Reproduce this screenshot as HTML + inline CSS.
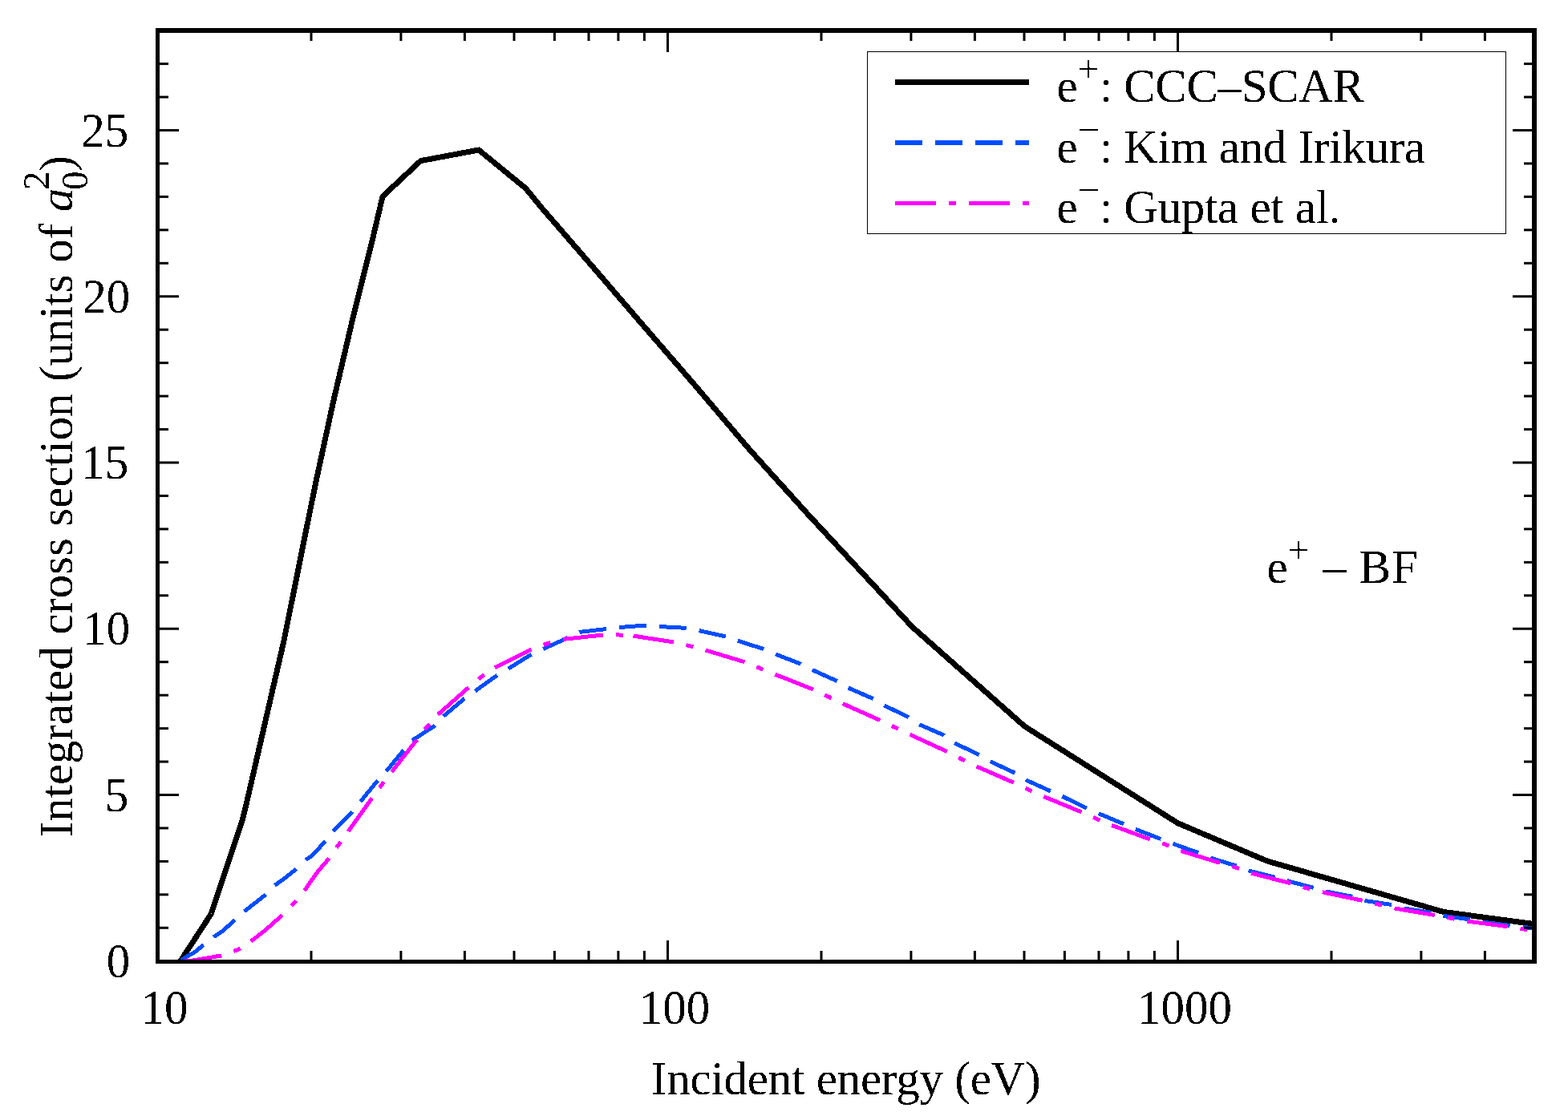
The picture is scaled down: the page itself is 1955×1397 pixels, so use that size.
<!DOCTYPE html><html><head><meta charset="utf-8"><style>html,body{margin:0;padding:0;background:#fff;overflow:hidden}svg{display:block}text{font-family:"Liberation Serif",serif;fill:#000}</style></head><body>
<svg width="1955" height="1397" viewBox="0 0 1955 1397">
<rect width="1955" height="1397" fill="#fff"/>
<defs><clipPath id="c"><rect x="199" y="41" width="1711" height="1156"/></clipPath><filter id="t" x="0" y="0" width="1955" height="1397" filterUnits="userSpaceOnUse"><feComponentTransfer><feFuncA type="discrete" tableValues="0 1"/></feComponentTransfer></filter></defs>
<g clip-path="url(#c)" fill="none" stroke-linejoin="miter" stroke-linecap="butt" shape-rendering="crispEdges">
<polyline points="225.0,1198.8 263.5,1139.5 276.5,1100.0 302.5,1022.0 307.8,1000.0 330.8,900.0 353.8,800.0 373.9,700.0 394.1,600.0 415.8,500.0 439.2,400.0 464.1,300.0 477.1,245.0 524.5,200.6 596.9,187.0 655.5,235.0 676.0,260.0 737.5,331.0 796.8,400.0 866.0,480.0 933.9,560.0 1006.0,640.0 1080.1,720.0 1137.5,782.0 1277.5,906.0 1468.6,1026.8 1580.0,1074.0 1800.0,1137.5 1913.0,1152.6" stroke="#000" stroke-width="7"/>
<polyline points="224.0,1199.0 234.8,1192.0 244.0,1186.9 252.2,1179.7 265.5,1169.5 278.8,1160.3 291.1,1149.0 303.3,1137.7 316.6,1127.5 330.0,1116.8 341.7,1105.0 354.5,1095.8 367.8,1085.1 380.6,1073.3 390.0,1066.3 403.7,1051.4 415.2,1037.1 438.1,1014.2 449.0,1000.4 469.6,975.2 481.1,962.6 502.3,936.9 513.7,923.6 541.1,905.9 553.3,893.1 577.6,872.5 592.2,862.1 618.3,843.3 632.9,834.7 660.9,817.1 676.1,809.9 705.3,796.8 722.9,788.4 755.2,784.6 771.3,782.6 805.0,780.0 821.1,781.5 854.9,783.3 871.0,786.4 904.0,793.8 919.4,799.1 951.6,809.4 967.5,816.2 997.0,827.6 1013.5,835.9 1042.1,848.8 1057.7,858.0 1087.2,870.9 1102.8,880.1 1131.4,893.9 1147.0,904.0 1176.5,916.9 1190.3,927.0 1219.7,940.9 1235.4,950.1 1264.9,963.9 1279.6,973.1 1310.0,986.9 1324.5,993.3 1354.8,1008.0 1369.6,1014.6 1400.7,1027.7 1415.4,1034.2 1447.3,1046.5 1462.0,1052.2 1494.0,1063.7 1509.5,1070.2 1541.4,1080.0 1556.0,1085.8 1588.9,1094.0 1605.1,1098.7 1637.8,1107.4 1653.0,1112.0 1687.0,1118.5 1701.8,1123.5 1735.9,1128.6 1751.8,1133.2 1784.9,1138.4 1800.5,1142.6 1834.0,1147.0 1848.0,1150.0 1882.8,1154.5 1913.0,1158.0" stroke="#004dff" stroke-width="5" stroke-dasharray="34 16" stroke-dashoffset="47.8"/>
<polyline points="226.0,1199.5 240.0,1198.0 250.0,1196.5 262.0,1194.3 275.7,1192.0 296.0,1184.8 313.6,1173.6 332.0,1159.2 351.4,1141.8 366.3,1127.0 380.1,1110.1 394.6,1089.2 410.0,1070.9 422.1,1053.7 434.1,1037.1 462.7,997.0 475.3,979.8 488.5,962.6 518.6,924.2 532.0,907.1 546.0,891.3 583.1,858.5 598.9,845.1 617.1,832.9 660.3,811.0 680.0,803.4 700.7,797.6 749.8,792.2 770.5,791.9 783.0,792.8" stroke="#ff00ff" stroke-width="5" stroke-dasharray="51 16 9 16" stroke-dashoffset="0.2"/>
<polyline points="783.0,792.8 792.0,793.5 841.1,801.1 861.0,806.0 881.0,811.4 929.3,826.0 948.5,834.0 968.4,842.0 1013.5,859.8 1032.9,869.0 1052.2,878.3 1097.3,898.5 1116.6,907.7 1136.0,916.9 1180.2,937.2 1198.6,946.8 1218.8,956.5 1263.0,975.8 1282.3,985.0 1300.8,993.3 1348.3,1012.9 1366.5,1021.0 1386.0,1029.3 1432.6,1046.5 1452.6,1053.0 1471.8,1061.2 1520.0,1076.0 1539.7,1081.7 1559.4,1089.0 1607.9,1101.4 1628.1,1107.4 1647.5,1112.5 1697.7,1123.1 1717.5,1127.7 1737.1,1132.7 1787.2,1141.2 1807.0,1145.0 1827.4,1148.8 1877.6,1155.4 1897.9,1158.7 1913.0,1160.5" stroke="#ff00ff" stroke-width="5" stroke-dasharray="51 16 9 16" stroke-dashoffset="85.5"/>
</g>
<g fill="#000">
<rect x="194" y="35" width="5" height="1167"/><rect x="1910" y="35" width="6" height="1167"/>
<rect x="194" y="35" width="1722" height="6"/><rect x="194" y="1197" width="1722" height="5"/>
<rect x="386.5" y="1186" width="3" height="11"/><rect x="386.5" y="41" width="3" height="10"/>
<rect x="498.4" y="1186" width="3" height="11"/><rect x="498.4" y="41" width="3" height="10"/>
<rect x="577.9" y="1186" width="3" height="11"/><rect x="577.9" y="41" width="3" height="10"/>
<rect x="639.5" y="1186" width="3" height="11"/><rect x="639.5" y="41" width="3" height="10"/>
<rect x="689.9" y="1186" width="3" height="11"/><rect x="689.9" y="41" width="3" height="10"/>
<rect x="732.5" y="1186" width="3" height="11"/><rect x="732.5" y="41" width="3" height="10"/>
<rect x="769.4" y="1186" width="3" height="11"/><rect x="769.4" y="41" width="3" height="10"/>
<rect x="801.9" y="1186" width="3" height="11"/><rect x="801.9" y="41" width="3" height="10"/>
<rect x="831.0" y="1173" width="3" height="24"/><rect x="831.0" y="41" width="3" height="24"/>
<rect x="1022.5" y="1186" width="3" height="11"/><rect x="1022.5" y="41" width="3" height="10"/>
<rect x="1134.4" y="1186" width="3" height="11"/><rect x="1134.4" y="41" width="3" height="10"/>
<rect x="1213.9" y="1186" width="3" height="11"/><rect x="1213.9" y="41" width="3" height="10"/>
<rect x="1275.5" y="1186" width="3" height="11"/><rect x="1275.5" y="41" width="3" height="10"/>
<rect x="1325.9" y="1186" width="3" height="11"/><rect x="1325.9" y="41" width="3" height="10"/>
<rect x="1368.5" y="1186" width="3" height="11"/><rect x="1368.5" y="41" width="3" height="10"/>
<rect x="1405.4" y="1186" width="3" height="11"/><rect x="1405.4" y="41" width="3" height="10"/>
<rect x="1437.9" y="1186" width="3" height="11"/><rect x="1437.9" y="41" width="3" height="10"/>
<rect x="1467.0" y="1173" width="3" height="24"/><rect x="1467.0" y="41" width="3" height="24"/>
<rect x="1658.5" y="1186" width="3" height="11"/><rect x="1658.5" y="41" width="3" height="10"/>
<rect x="1770.4" y="1186" width="3" height="11"/><rect x="1770.4" y="41" width="3" height="10"/>
<rect x="1849.9" y="1186" width="3" height="11"/><rect x="1849.9" y="41" width="3" height="10"/>
<rect x="199" y="1155.80" width="11" height="3"/><rect x="1900" y="1155.80" width="10" height="3"/>
<rect x="199" y="1114.35" width="11" height="3"/><rect x="1900" y="1114.35" width="10" height="3"/>
<rect x="199" y="1072.90" width="11" height="3"/><rect x="1900" y="1072.90" width="10" height="3"/>
<rect x="199" y="1031.45" width="11" height="3"/><rect x="1900" y="1031.45" width="10" height="3"/>
<rect x="199" y="990.00" width="24" height="3"/><rect x="1886" y="990.00" width="24" height="3"/>
<rect x="199" y="948.55" width="11" height="3"/><rect x="1900" y="948.55" width="10" height="3"/>
<rect x="199" y="907.10" width="11" height="3"/><rect x="1900" y="907.10" width="10" height="3"/>
<rect x="199" y="865.65" width="11" height="3"/><rect x="1900" y="865.65" width="10" height="3"/>
<rect x="199" y="824.20" width="11" height="3"/><rect x="1900" y="824.20" width="10" height="3"/>
<rect x="199" y="782.75" width="24" height="3"/><rect x="1886" y="782.75" width="24" height="3"/>
<rect x="199" y="741.30" width="11" height="3"/><rect x="1900" y="741.30" width="10" height="3"/>
<rect x="199" y="699.85" width="11" height="3"/><rect x="1900" y="699.85" width="10" height="3"/>
<rect x="199" y="658.40" width="11" height="3"/><rect x="1900" y="658.40" width="10" height="3"/>
<rect x="199" y="616.95" width="11" height="3"/><rect x="1900" y="616.95" width="10" height="3"/>
<rect x="199" y="575.50" width="24" height="3"/><rect x="1886" y="575.50" width="24" height="3"/>
<rect x="199" y="534.05" width="11" height="3"/><rect x="1900" y="534.05" width="10" height="3"/>
<rect x="199" y="492.60" width="11" height="3"/><rect x="1900" y="492.60" width="10" height="3"/>
<rect x="199" y="451.15" width="11" height="3"/><rect x="1900" y="451.15" width="10" height="3"/>
<rect x="199" y="409.70" width="11" height="3"/><rect x="1900" y="409.70" width="10" height="3"/>
<rect x="199" y="368.25" width="24" height="3"/><rect x="1886" y="368.25" width="24" height="3"/>
<rect x="199" y="326.80" width="11" height="3"/><rect x="1900" y="326.80" width="10" height="3"/>
<rect x="199" y="285.35" width="11" height="3"/><rect x="1900" y="285.35" width="10" height="3"/>
<rect x="199" y="243.90" width="11" height="3"/><rect x="1900" y="243.90" width="10" height="3"/>
<rect x="199" y="202.45" width="11" height="3"/><rect x="1900" y="202.45" width="10" height="3"/>
<rect x="199" y="161.00" width="24" height="3"/><rect x="1886" y="161.00" width="24" height="3"/>
<rect x="199" y="119.55" width="11" height="3"/><rect x="1900" y="119.55" width="10" height="3"/>
<rect x="199" y="78.10" width="11" height="3"/><rect x="1900" y="78.10" width="10" height="3"/>
</g>
<g filter="url(#t)">
<g font-size="59">
<text transform="translate(162.3,1218.8) scale(1,1.035)" text-anchor="end">0</text>
<text transform="translate(160.2,1011.5) scale(1,1.035)" text-anchor="end">5</text>
<text transform="translate(162.3,804.2) scale(1,1.035)" text-anchor="end">10</text>
<text transform="translate(160.2,597.0) scale(1,1.035)" text-anchor="end">15</text>
<text transform="translate(162.3,389.8) scale(1,1.035)" text-anchor="end">20</text>
<text transform="translate(160.2,182.5) scale(1,1.035)" text-anchor="end">25</text>
<text transform="translate(205.0,1277.3) scale(1,1.035)" text-anchor="middle">10</text>
<text transform="translate(841.0,1277.3) scale(1,1.035)" text-anchor="middle">100</text>
<text transform="translate(1477.0,1277.3) scale(1,1.035)" text-anchor="middle">1000</text>
</g>
<text x="811.8" y="1365" font-size="59" letter-spacing="-0.24">Incident energy (eV)</text>
<text transform="translate(90,1044.2) rotate(-90)" x="0" y="0" font-size="59" letter-spacing="-0.14">Integrated cross section (units of <tspan font-style="italic">a</tspan><tspan font-size="47" dx="-2" dy="19">0</tspan><tspan font-size="47" dx="-23.5" dy="-48">2</tspan><tspan dy="29">)</tspan></text>
<rect x="1081.5" y="64.5" width="796" height="227" fill="none" stroke="#000" stroke-width="1"/>
<rect x="1116" y="99" width="167" height="7" fill="#000"/>
<line x1="1116" y1="178" x2="1283" y2="178" stroke="#004dff" stroke-width="6" stroke-dasharray="34 16"/>
<line x1="1116" y1="253.5" x2="1283" y2="253.5" stroke="#ff00ff" stroke-width="5" stroke-dasharray="51 16 9 16"/>
<g font-size="59">
<text x="1317.5" y="127">e<tspan font-size="48" dy="-24.7">+</tspan><tspan dy="24.7" letter-spacing="-0.3">: CCC–SCAR</tspan></text>
<text x="1317.5" y="202.5">e<tspan font-size="48" dy="-24.7">−</tspan><tspan dy="24.7" letter-spacing="-0.3">: Kim and Irikura</tspan></text>
<text x="1317.5" y="278">e<tspan font-size="48" dy="-24.7">−</tspan><tspan dy="24.7" letter-spacing="-0.3">: Gupta et al.</tspan></text>
<text x="1579.5" y="727">e<tspan font-size="48" dy="-24.7">+</tspan><tspan dy="24.7"> </tspan><tspan dx="1.5" dy="-1.5">–</tspan><tspan dx="0.5" dy="1.5" letter-spacing="0.9"> BF</tspan></text>
</g>
</g>
</svg></body></html>
